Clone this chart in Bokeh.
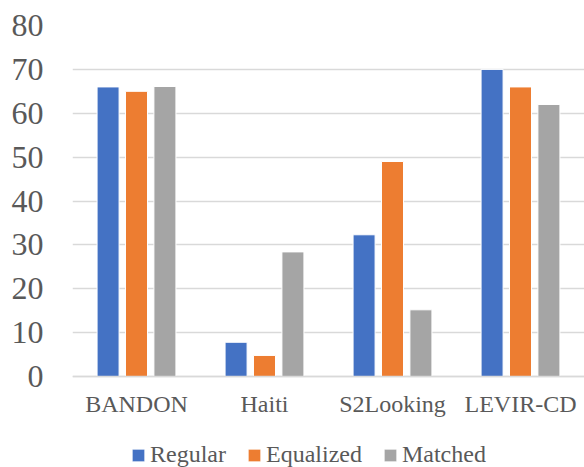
from bokeh.plotting import figure
from bokeh.models import ColumnDataSource, FactorRange, Range1d, Legend, LegendItem, FixedTicker
from bokeh.transform import dodge
from bokeh.embed import file_html
from bokeh.resources import INLINE

categories = ["BANDON", "Haiti", "S2Looking", "LEVIR-CD"]
regular = [66.0, 7.8, 32.3, 70.0]
equalized = [65.0, 4.8, 49.0, 66.0]
matched = [66.1, 28.4, 15.2, 62.0]
series_names = ["Regular", "Equalized", "Matched"]
y_ticks = [0, 10, 20, 30, 40, 50, 60, 70, 80]

colors = ["#4472C4", "#ED7D31", "#A5A5A5"]
FONT = "Liberation Serif"
TXT = "#595959"

source = ColumnDataSource(data=dict(cat=categories, Regular=regular,
                                    Equalized=equalized, Matched=matched))

# frame spans the full lower area so the legend (drawn inside the frame) stays visible;
# value 0 sits 91px above the bottom edge (80 units over 351px)
y_bottom = -80 * 91 / 351
p = figure(x_range=FactorRange(*categories), y_range=Range1d(y_bottom, 80),
           width=584, height=467, output_backend="svg", toolbar_location=None,
           min_border_left=72, min_border_right=0, min_border_top=25,
           min_border_bottom=0)
p.outline_line_color = None

offsets = [-0.222, 0.0, 0.222]
renderers = []
for name, off, col in zip(series_names, offsets, colors):
    r = p.vbar(x=dodge("cat", off, range=p.x_range), top=name, bottom=0, width=0.172,
               source=source, fill_color=col, line_color="white", line_width=1)
    renderers.append(r)

p.xgrid.grid_line_color = None
p.ygrid.grid_line_color = "#D9D9D9"
p.ygrid.grid_line_width = 1.5

p.yaxis.ticker = FixedTicker(ticks=y_ticks)
p.yaxis.axis_line_color = None
p.yaxis.major_tick_line_color = None
p.yaxis.minor_tick_line_color = None
p.yaxis.major_label_text_font = FONT
p.yaxis.major_label_text_font_size = "32px"
p.yaxis.major_label_text_color = TXT
p.yaxis.major_label_standoff = 23

p.xaxis.fixed_location = 0
p.xaxis.axis_line_color = "#D9D9D9"
p.xaxis.axis_line_width = 1.5
p.xaxis.major_tick_line_color = None
p.xaxis.minor_tick_line_color = None
p.xaxis.major_label_text_font = FONT
p.xaxis.major_label_text_font_size = "24px"
p.xaxis.major_label_text_color = TXT
p.xaxis.major_label_standoff = 8

legend = Legend(items=[LegendItem(label=n, renderers=[r]) for n, r in zip(series_names, renderers)],
                orientation="horizontal", location=(58, -1),
                glyph_width=16, glyph_height=16, label_standoff=4, spacing=20,
                padding=0, margin=0, border_line_alpha=0, background_fill_alpha=0,
                label_text_font=FONT, label_text_font_size="24px", label_text_color=TXT,
                label_height=20)
p.add_layout(legend, "center")

open("out.html", "w").write(file_html(p, INLINE))
